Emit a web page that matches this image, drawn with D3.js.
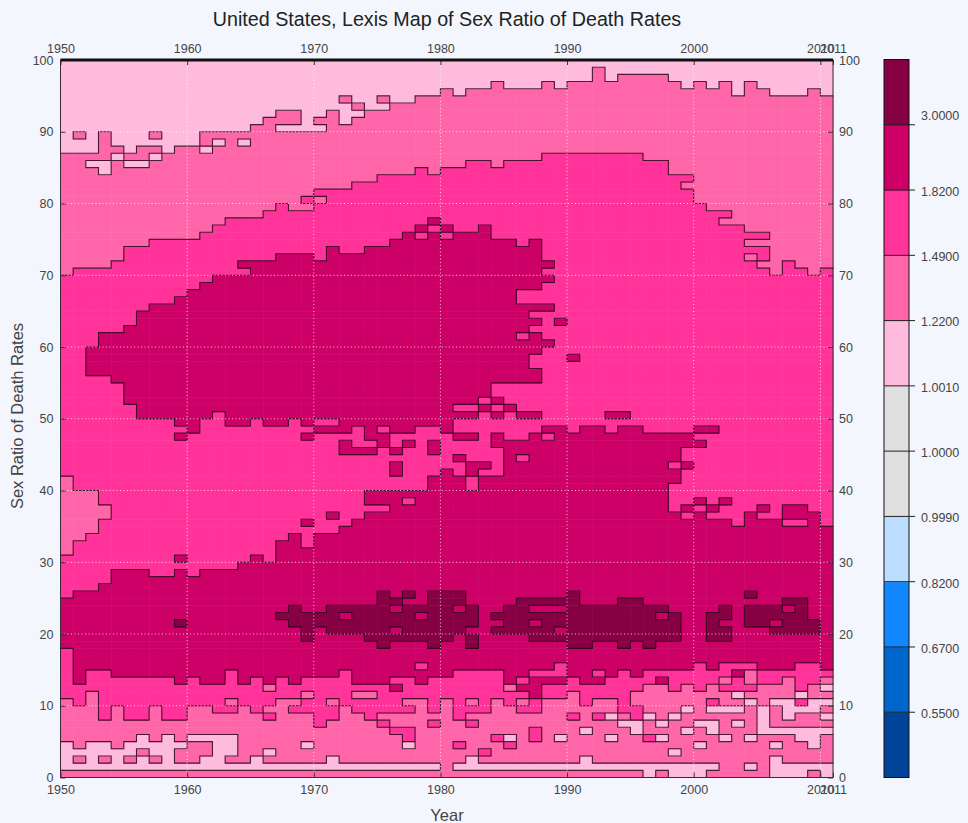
<!DOCTYPE html>
<html>
<head>
<meta charset="utf-8">
<script src="https://cdn.jsdelivr.net/npm/d3@7"></script>
<style>
  body { margin: 0; background: #f4f6fe; }
  svg { display: block; font-family: "Liberation Sans", Arial, sans-serif; }
  .axis text, .bar-label { fill: #444; font-size: 12.5px; }
  .axis line { stroke: #333; }
</style>
</head>
<body>
<svg id="chart" width="968" height="823"></svg>
<script>
const FIRST_YEAR = 1950;
const LAST_YEAR = 2011;

const xTicks = [1950, 1960, 1970, 1980, 1990, 2000, 2010, 2011];
const yTicks = [0, 10, 20, 30, 40, 50, 60, 70, 80, 90, 100];
const barLabels = ['0.5500', '0.6700', '0.8200', '0.9990', '1.0000', '1.0010', '1.2200', '1.4900', '1.8200', '3.0000'];
const barColors = ['#004499', '#0066cc', '#1188ff', '#bbddff', '#e0e0e0', '#e0e0e0', '#ffbbdd', '#ff66aa', '#ff3399', '#cc0066', '#880044'];

// level index into barColors
const A = 6, B = 7, C = 8, D = 9, E = 10;

// boundaries read per year, 1950..2010, lowest age at which the level starts
const lightFloor = [
  87, 87, 87, 90, 88, 87, 88, 88, 87, 88,
  88, 90, 90, 90, 90, 91, 92, 93, 93, 90,
  90, 93, 91, 92, 93, 93, 94, 94, 95, 95,
  96, 95, 96, 96, 97, 96, 96, 96, 97, 96,
  97, 97, 99, 97, 98, 98, 98, 98, 97, 96,
  97, 96, 97, 95, 97, 96, 95, 95, 95, 96,
  95];
const upperMidFloor = [
  70, 71, 71, 71, 72, 74, 74, 75, 75, 75,
  75, 76, 77, 78, 78, 78, 79, 80, 79, 79,
  82, 82, 82, 83, 83, 84, 84, 84, 85, 84,
  85, 85, 86, 86, 85, 86, 86, 86, 87, 87,
  87, 87, 87, 87, 87, 87, 86, 86, 84, 84,
  80, 79, 79, 77, 76, 76, 70, 72, 71, 70,
  71];
// dark blob over ages 50-75, only 1952..1987
const blobTop = [
  null, null, 60, 62, 62, 63, 65, 66, 66, 67,
  68, 69, 70, 70, 72, 72, 72, 73, 73, 73,
  72, 74, 73, 73, 74, 74, 75, 76, 77, 78,
  77, 76, 76, 77, 75, 75, 74, 75];
const blobBottom = [
  null, null, 56, 56, 55, 52, 50, 50, 50, 49,
  48, 50, 51, 49, 49, 50, 49, 49, 50, 49,
  48, 48, 48, 49, 47, 46, 48, 48, 49, 49,
  48, 50, 50, 53, 55, 55, 55, 55];
const bandTop = [
  25, 26, 26, 27, 29, 29, 29, 28, 28, 29,
  28, 29, 29, 29, 30, 31, 30, 33, 34, 32,
  34, 34, 35, 36, 40, 40, 40, 40, 40, 42,
  43, 42, 40, 42, 42, 47, 47, 48, 49, 49,
  48, 49, 49, 48, 49, 49, 48, 48, 48, 48,
  37, 36, 36, 35, 37, 36, 36, 38, 38, 37,
  35];
const bandBottom = [
  18, 13, 15, 15, 14, 14, 14, 14, 14, 13,
  14, 13, 13, 15, 13, 14, 13, 14, 13, 14,
  14, 14, 15, 13, 13, 13, 14, 14, 13, 14,
  14, 15, 15, 15, 15, 13, 14, 15, 15, 16,
  14, 13, 15, 14, 15, 14, 15, 15, 15, 15,
  16, 15, 16, 16, 16, 15, 15, 15, 16, 16,
  15];
const lowerMidFloor = [
  11, 10, 12, 8, 10, 8, 8, 10, 8, 8,
  10, 10, 9, 9, 10, 9, 10, 11, 11, 9,
  7, 8, 10, 9, 8, 9, 9, 9, 11, 9,
  11, 8, 9, 9, 11, 10, 9, 9, 11, 11,
  12, 10, 11, 11, 9, 12, 13, 13, 12, 13,
  12, 13, 12, 12, 12, 13, 13, 14, 12, 13,
  14];
// ages 1.. up to this one are light at the young end, 1950..1979
const youngTop = [
  5, 4, 5, 5, 4, 5, 6, 5, 6, 5,
  6, 6, 6, 6, 2, 3, 2, 2, 2, 2,
  2, 3, 2, 2, 2, 2, 2, 2, 2, 2];

// single cells off the boundaries: [fromYear, toYear, fromAge, toAge]
const cellsE = [
  [1959, 1959, 21, 21], [1967, 1967, 22, 22], [1968, 1968, 21, 23], [1969, 1969, 19, 22],
  [1970, 1970, 21, 22], [1971, 1973, 20, 23], [1974, 1974, 19, 23], [1975, 1975, 18, 25],
  [1976, 1976, 19, 24], [1977, 1977, 19, 23], [1977, 1977, 25, 25], [1978, 1978, 19, 23],
  [1979, 1979, 18, 25], [1980, 1980, 19, 25], [1981, 1981, 20, 25], [1982, 1982, 21, 23],
  [1982, 1982, 18, 19], [1984, 1984, 22, 22], [1984, 1984, 20, 20], [1985, 1985, 20, 23],
  [1986, 1986, 20, 24], [1987, 1989, 19, 24], [1990, 1990, 18, 25], [1991, 1991, 18, 23],
  [1992, 1993, 19, 23], [1994, 1994, 18, 24], [1995, 1995, 19, 24], [1996, 1996, 18, 23],
  [1997, 1997, 19, 23], [1998, 1998, 19, 22], [2001, 2001, 19, 22], [2002, 2002, 19, 20],
  [2002, 2002, 22, 23], [2004, 2004, 21, 23], [2004, 2004, 25, 25], [2005, 2005, 21, 23],
  [2006, 2006, 20, 23], [2007, 2008, 20, 24], [2009, 2009, 20, 21]];
const cellsD = [
  [1972, 1972, 22, 22], [1976, 1976, 23, 23], [1976, 1976, 20, 20], [1978, 1978, 22, 22],
  [1981, 1981, 23, 23], [1984, 1984, 21, 21], [1987, 1989, 23, 23], [1987, 1987, 21, 21],
  [1989, 1989, 20, 20], [1997, 1997, 22, 22], [2006, 2006, 21, 21], [2007, 2007, 23, 23],
  [1969, 1969, 35, 35], [1971, 1971, 36, 36], [1959, 1959, 30, 30], [1959, 1959, 47, 47],
  [1969, 1969, 47, 47], [1972, 1972, 45, 46], [1973, 1974, 45, 45], [1976, 1976, 45, 45],
  [1977, 1977, 46, 46], [1976, 1976, 42, 43], [1979, 1979, 45, 46], [1981, 1982, 47, 47],
  [1984, 1984, 46, 47], [1981, 1981, 44, 44], [1982, 1982, 42, 43], [1983, 1983, 43, 43],
  [1983, 1983, 51, 51], [1984, 1984, 52, 52], [1984, 1984, 50, 50], [1985, 1985, 51, 51],
  [1986, 1987, 50, 50], [1988, 1988, 71, 71], [1988, 1988, 69, 69], [1988, 1988, 65, 65],
  [1987, 1988, 60, 60], [1989, 1989, 63, 63], [1990, 1990, 58, 58], [1993, 1994, 50, 50],
  [2000, 2001, 48, 48], [2000, 2000, 46, 46], [1999, 1999, 43, 43], [1999, 1999, 37, 37],
  [2000, 2000, 38, 38], [2001, 2001, 37, 37], [2002, 2002, 38, 38], [2005, 2005, 37, 37],
  [1976, 1976, 12, 12], [1986, 1986, 12, 12], [1987, 1987, 11, 13], [1988, 1989, 13, 13],
  [1992, 1992, 13, 13], [1997, 1997, 13, 13], [2003, 2003, 14, 14]];
const cellsC = [
  [1969, 1969, 80, 80], [1964, 1964, 70, 70], [1978, 1978, 75, 75], [1979, 1979, 76, 76],
  [1980, 1980, 75, 75], [1986, 1987, 66, 67], [1987, 1987, 64, 64], [1987, 1987, 62, 62],
  [1987, 1987, 57, 58], [1986, 1986, 61, 61], [1970, 1971, 49, 49], [1975, 1975, 48, 48],
  [1981, 1982, 51, 51], [1974, 1975, 37, 37], [1977, 1977, 38, 38], [1986, 1986, 44, 44],
  [1988, 1988, 47, 47], [1998, 1998, 43, 43], [1998, 1998, 37, 40], [1999, 1999, 44, 45],
  [1999, 1999, 38, 42], [1999, 1999, 36, 36], [2007, 2008, 35, 35], [1966, 1966, 8, 8],
  [1968, 1968, 9, 9], [1975, 1975, 7, 7], [1976, 1976, 6, 6], [1977, 1977, 5, 6],
  [1979, 1979, 7, 7], [1978, 1978, 15, 15], [1982, 1982, 7, 7], [1984, 1984, 5, 5],
  [1985, 1985, 4, 4], [1981, 1981, 4, 4], [1983, 1983, 3, 3], [1987, 1987, 5, 6],
  [1990, 1990, 8, 8], [1992, 1992, 8, 8], [1986, 1986, 13, 13], [1995, 1995, 8, 9],
  [1996, 1996, 5, 5], [2001, 2001, 10, 10], [2008, 2008, 10, 10]];
const cellsB = [
  [1951, 1951, 89, 89], [1957, 1957, 89, 89], [1970, 1970, 91, 91], [1972, 1972, 94, 94],
  [1973, 1973, 93, 93], [1975, 1975, 94, 94], [1970, 1970, 80, 80], [1999, 1999, 82, 82],
  [2002, 2002, 77, 77], [2004, 2005, 74, 74], [2004, 2004, 72, 72], [2005, 2005, 71, 71],
  [1950, 1950, 31, 41], [1951, 1951, 33, 39], [1952, 1952, 34, 39], [1953, 1953, 36, 37],
  [1951, 1951, 2, 2], [1953, 1953, 2, 2], [1955, 1955, 2, 2], [1956, 1956, 3, 3],
  [1957, 1957, 2, 2], [1959, 1959, 2, 3], [1960, 1960, 2, 4], [1961, 1961, 3, 4],
  [1963, 1963, 2, 2], [1963, 1963, 10, 10], [1966, 1966, 12, 12], [1969, 1969, 11, 11],
  [1971, 1971, 10, 10], [1973, 1974, 11, 11], [1977, 1977, 10, 10], [1982, 1982, 10, 10],
  [1985, 1985, 12, 12], [1986, 1986, 10, 10], [1994, 1994, 8, 8], [2002, 2002, 13, 13],
  [2004, 2004, 13, 14]];
const cellsA = [
  [1952, 1952, 85, 85], [1953, 1953, 84, 85], [1954, 1954, 86, 86], [1955, 1956, 85, 85],
  [1957, 1957, 86, 86], [1961, 1961, 87, 87], [1962, 1962, 88, 88], [1964, 1964, 88, 88],
  [1967, 1968, 90, 90], [1966, 1966, 3, 3], [1969, 1969, 4, 4], [1977, 1977, 4, 4],
  [1985, 1985, 5, 5], [1989, 1989, 5, 5], [1991, 1991, 6, 6], [1993, 1993, 5, 5],
  [1993, 1993, 8, 8], [1994, 1994, 7, 7], [1995, 1995, 6, 7], [1996, 1996, 8, 8],
  [1997, 1997, 7, 7], [1997, 1997, 5, 5], [1998, 1998, 8, 8], [1998, 1998, 3, 3],
  [1999, 1999, 9, 9], [1999, 1999, 6, 6], [2000, 2000, 7, 7], [2000, 2000, 4, 4],
  [2001, 2001, 6, 7], [2001, 2003, 9, 9], [2002, 2002, 5, 5], [2003, 2003, 7, 7],
  [2003, 2003, 11, 11], [2004, 2004, 10, 10], [2004, 2004, 5, 5], [2005, 2005, 6, 9],
  [2006, 2010, 6, 6], [2008, 2008, 5, 5], [2009, 2009, 4, 5], [2006, 2006, 4, 4],
  [2006, 2006, 10, 10], [2007, 2007, 8, 10], [2008, 2008, 9, 9], [2009, 2009, 9, 10],
  [2010, 2010, 10, 10], [2010, 2010, 8, 8], [2008, 2008, 11, 11], [2010, 2010, 12, 12],
  [1981, 2001, 1, 1], [1982, 1982, 2, 2], [1991, 1991, 2, 2], [1996, 1996, 0, 0],
  [1998, 2000, 0, 0], [2004, 2004, 1, 1], [2006, 2006, 0, 2], [2007, 2008, 0, 1],
  [2009, 2009, 1, 1], [2010, 2010, 0, 1]];

// fill the year x age grid from the boundaries, then stamp the single cells
const baseLevel = (i, age) => {
  if (age >= lightFloor[i]) return A;
  if (age >= upperMidFloor[i]) return B;
  if (blobTop[i] != null) {
    if (age >= blobTop[i]) return C;
    if (age >= blobBottom[i]) return D;
  }
  if (age >= bandTop[i]) return C;
  if (age >= bandBottom[i]) return D;
  if (age >= lowerMidFloor[i]) return C;
  if (age >= 1 && age < (youngTop[i] || 0)) return A;
  return B;
};

const years = d3.range(FIRST_YEAR, LAST_YEAR);
const ages = d3.range(0, 100);
const grid = years.map((y, i) => ages.map(a => baseLevel(i, a)));
const stamp = (list, level) => list.forEach(([y0, y1, a0, a1]) => {
  for (let y = y0; y <= y1; y++) {
    for (let a = a0; a <= a1; a++) grid[y - FIRST_YEAR][a] = level;
  }
});
stamp(cellsE, E);
stamp(cellsD, D);
stamp(cellsC, C);
stamp(cellsB, B);
stamp(cellsA, A);

const svg = d3.select('#chart');
const x = d3.scaleLinear().domain([FIRST_YEAR, LAST_YEAR]).range([60.5, 833]);
const y = d3.scaleLinear().domain([0, 100]).range([777.5, 60]);

const cells = years.flatMap((yr, i) => ages.map(a => ({yr, a, level: grid[i][a]})));
svg.append('g').selectAll('rect')
  .data(cells)
  .join('rect')
    .attr('x', d => x(d.yr))
    .attr('y', d => y(d.a + 1))
    .attr('width', d => x(d.yr + 1) - x(d.yr) + 0.5)
    .attr('height', d => y(d.a) - y(d.a + 1) + 0.5)
    .attr('fill', d => barColors[d.level]);

// contour steps wherever two neighbouring cells differ
const contour = d3.path();
years.forEach((yr, i) => ages.forEach(a => {
  if (i < years.length - 1 && grid[i][a] !== grid[i + 1][a]) {
    contour.moveTo(x(yr + 1), y(a));
    contour.lineTo(x(yr + 1), y(a + 1));
  }
  if (a < 99 && grid[i][a] !== grid[i][a + 1]) {
    contour.moveTo(x(yr), y(a + 1));
    contour.lineTo(x(yr + 1), y(a + 1));
  }
}));
svg.append('path')
  .attr('d', contour.toString())
  .attr('fill', 'none')
  .attr('stroke', '#2a0418')
  .attr('stroke-opacity', 0.85)
  .attr('stroke-width', 1.1)
  .attr('stroke-linecap', 'square');

// dotted white grid over the contours
const gridLines = svg.append('g')
  .attr('stroke', '#fff')
  .attr('stroke-width', 1)
  .attr('stroke-dasharray', '1,2.5')
  .attr('stroke-opacity', 0.75);
xTicks.slice(1, -1).forEach(t => {
  gridLines.append('line').attr('x1', x(t)).attr('x2', x(t)).attr('y1', y(0)).attr('y2', y(100));
});
yTicks.slice(1, -1).forEach(t => {
  gridLines.append('line').attr('x1', x(FIRST_YEAR)).attr('x2', x(LAST_YEAR)).attr('y1', y(t)).attr('y2', y(t));
});

// axes, ticks point inwards
const fmt = d3.format('d');
const styleAxis = g => g.call(s => s.select('.domain').remove()).attr('class', 'axis').style('font-family', null).style('font-size', null);
svg.append('g').attr('transform', `translate(0,${y(0)})`)
  .call(d3.axisBottom(x).tickValues(xTicks).tickFormat(fmt).tickSize(-5).tickPadding(8)).call(styleAxis);
svg.append('g').attr('transform', `translate(0,${y(100)})`)
  .call(d3.axisTop(x).tickValues(xTicks).tickFormat(fmt).tickSize(-5).tickPadding(7)).call(styleAxis);
svg.append('g').attr('transform', `translate(${x(FIRST_YEAR)},0)`)
  .call(d3.axisLeft(y).tickValues(yTicks).tickFormat(fmt).tickSize(-5).tickPadding(7)).call(styleAxis);
svg.append('g').attr('transform', `translate(${x(LAST_YEAR)},0)`)
  .call(d3.axisRight(y).tickValues(yTicks).tickFormat(fmt).tickSize(-5).tickPadding(6)).call(styleAxis);

svg.append('rect')
  .attr('x', x(FIRST_YEAR)).attr('y', y(100))
  .attr('width', x(LAST_YEAR) - x(FIRST_YEAR)).attr('height', y(0) - y(100))
  .attr('fill', 'none').attr('stroke', '#3a2a35').attr('stroke-width', 1);
svg.append('line')
  .attr('x1', x(FIRST_YEAR)).attr('x2', x(LAST_YEAR)).attr('y1', y(100)).attr('y2', y(100))
  .attr('stroke', '#111').attr('stroke-width', 3);

// colour bar
const barX = 884;
const barWidth = 25;
const barY = d3.scaleLinear().domain([0, barColors.length]).range([777.5, 59.5]);
svg.append('g').selectAll('rect')
  .data(barColors)
  .join('rect')
    .attr('x', barX)
    .attr('y', (d, i) => barY(i + 1))
    .attr('width', barWidth)
    .attr('height', barY(0) - barY(1) + 0.5)
    .attr('fill', d => d);
svg.append('rect')
  .attr('x', barX).attr('y', barY(barColors.length))
  .attr('width', barWidth).attr('height', barY(0) - barY(barColors.length))
  .attr('fill', 'none').attr('stroke', '#111').attr('stroke-width', 1);
svg.append('g').selectAll('line')
  .data(barLabels)
  .join('line')
    .attr('x1', barX)
    .attr('x2', barX + 31)
    .attr('y1', (d, i) => barY(i + 1))
    .attr('y2', (d, i) => barY(i + 1))
    .attr('stroke', '#222');
svg.append('g').selectAll('text')
  .data(barLabels)
  .join('text')
    .attr('class', 'bar-label')
    .attr('x', 921)
    // the top label sits above its tick in the original
    .attr('y', (d, i) => barY(i + 1) + (d === '3.0000' ? -9 : 1.5))
    .attr('dy', '0.35em')
    .text(d => d);

// titles
svg.append('text')
  .attr('x', 447).attr('y', 26)
  .attr('text-anchor', 'middle')
  .attr('fill', '#222')
  .style('font-size', '19.7px')
  .text('United States, Lexis Map of Sex Ratio of Death Rates');
svg.append('text')
  .attr('x', 447).attr('y', 821)
  .attr('text-anchor', 'middle')
  .attr('fill', '#444')
  .style('font-size', '16.5px')
  .text('Year');
svg.append('text')
  .attr('transform', 'translate(23,416) rotate(-90)')
  .attr('text-anchor', 'middle')
  .attr('fill', '#444')
  .style('font-size', '16.5px')
  .text('Sex Ratio of Death Rates');
</script>
</body>
</html>
